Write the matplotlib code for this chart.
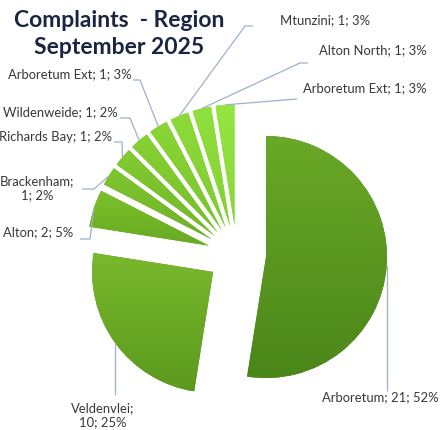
import numpy as np
import matplotlib
matplotlib.use("Agg")
import matplotlib.pyplot as plt
from matplotlib.colors import LinearSegmentedColormap

# ---- data ----
regions = ["Arboretum", "Veldenvlei", "Alton", "Brackenham", "Richards Bay",
           "Wildenweide", "Arboretum Ext", "Mtunzini", "Alton North", "Arboretum Ext"]
complaints = [21, 10, 2, 1, 1, 1, 1, 1, 1, 1]
percent_labels = ["52%", "25%", "5%", "2%", "2%", "2%", "3%", "3%", "3%", "3%"]
title_lines = ["Complaints  - Region", "September 2025"]

# ---- style ----
top_colors = ["#6aa827", "#79b92c", "#7cc02c", "#80c630", "#83cb32", "#87d134",
              "#8ad636", "#8ddb39", "#90e03c", "#94e640"]
bot_colors = ["#4b8619", "#5c991e", "#67aa22", "#6db226", "#71b828", "#76be2b",
              "#7ac42e", "#7fcb31", "#83d134", "#88d737"]

W, H = 443, 431
fig = plt.figure(figsize=(W / 100, H / 100), dpi=100)
ax = fig.add_axes([0, 0, 1, 1])


def px(x, y):
    return (x, H - y)


C = px(236.8, 255.7)
R = 121
EXPL = 29.3

wedges, _ = ax.pie(complaints, startangle=90, counterclock=False, radius=R,
                   center=C, explode=[EXPL] * len(complaints),
                   colors=[b for b in bot_colors],
                   wedgeprops=dict(linewidth=0))

for w, ct, cb in zip(wedges, top_colors, bot_colors):
    v = w.get_path().vertices
    x0, x1 = v[:, 0].min(), v[:, 0].max()
    y0, y1 = v[:, 1].min(), v[:, 1].max()
    cmap = LinearSegmentedColormap.from_list("g", [cb, ct])
    grad = np.linspace(1, 0, 256).reshape(-1, 1)
    im = ax.imshow(grad, cmap=cmap, extent=[x0, x1, y0, y1], origin="upper",
                   aspect="auto", interpolation="bilinear", zorder=2)
    im.set_clip_path(w)

ax.set_xlim(0, W)
ax.set_ylim(0, H)
ax.set_aspect("auto")
ax.axis("off")

# ---- labels ----
font = "Lato"
tcol = "#383838"
lcol = "#9fb0c9"

label_pos = [  # (x, y) in px, ha
    ((322, 397), "left"),
    ((103, 415), "center"),
    ((3, 232), "left"),
    ((0, 188), "left"),
    ((-1, 137), "left"),
    ((3, 112), "left"),
    ((8, 74), "left"),
    ((280, 20), "left"),
    ((427, 50), "right"),
    ((427, 88), "right"),
]
line_break = [False, True, False, True, False, False, False, False, False, False]

for i, (name, val, pct) in enumerate(zip(regions, complaints, percent_labels)):
    sep = "\n" if line_break[i] else " "
    txt = f"{name};{sep}{val}; {pct}"
    (x, y), ha = label_pos[i]
    ax.text(*px(x, y), txt, ha=ha, va="center", fontsize=9.4, family=font,
            color=tcol, multialignment="center", linespacing=1.2, zorder=5)

# leader line attachment points (px) near labels
leader_pts = [
    [None],                # vertical
    [None],                # vertical
    [(80, 240), (90, 240)],
    [(82, 190), (94, 190)],
    [(114, 143), (122, 143)],
    [(120, 119), (130, 119)],
    [(133, 81), (140, 81)],
    [(253, 27), (245, 27)],
    [(308, 64), (300, 64)],
    [(297, 100)],
]
for i, w in enumerate(wedges):
    th = np.deg2rad(0.5 * (w.theta1 + w.theta2))
    ax_, ay_ = w.center[0] + w.r * np.cos(th), w.center[1] + w.r * np.sin(th)
    if i == 0:
        pts = [(ax_, H - 392), (ax_, ay_)]
    elif i == 1:
        pts = [(ax_, H - 396), (ax_, ay_)]
    else:
        pts = [px(*p) for p in leader_pts[i]] + [(ax_, ay_)]
    xs, ys = zip(*pts)
    ax.plot(xs, ys, color=lcol, lw=0.9, zorder=4, solid_capstyle="butt")

# ---- title ----
for j, line in enumerate(title_lines):
    ax.text(*px(119, 20 + 27 * j), line, ha="center", va="center",
            fontsize=16.5, family=font, weight="bold", color="#1b2541", zorder=5)

fig.savefig("out.png", dpi=100, facecolor="white")
